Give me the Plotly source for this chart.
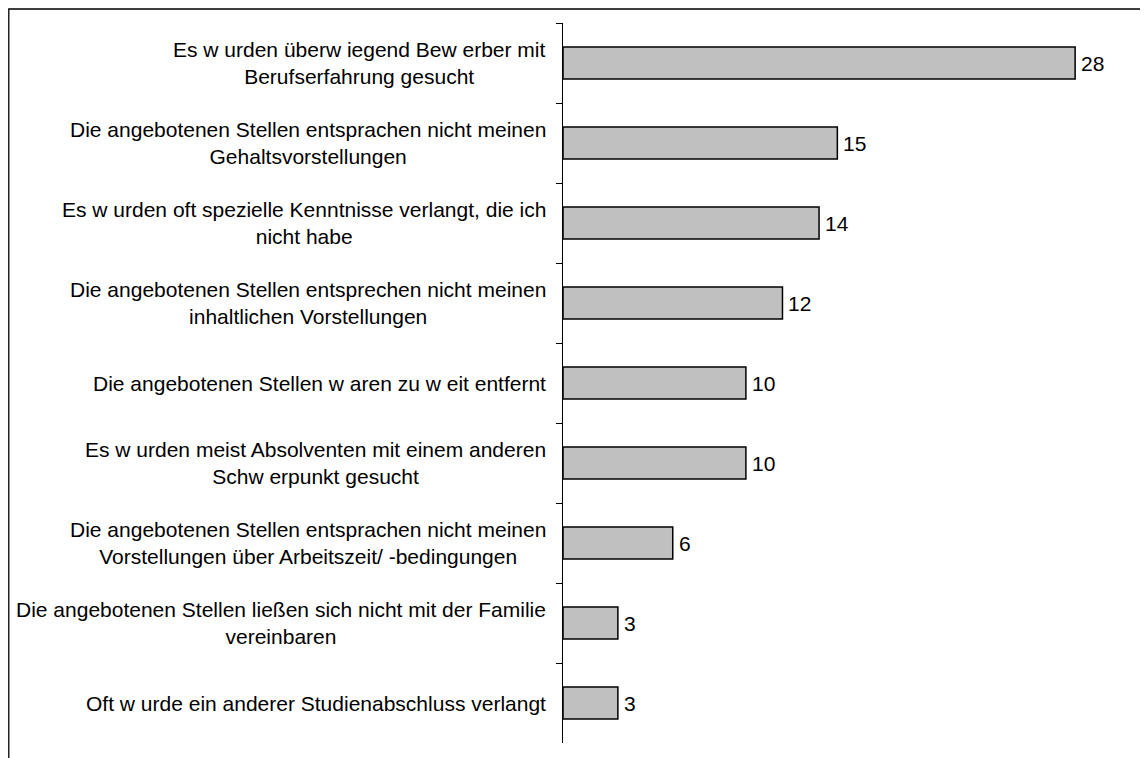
import plotly.graph_objects as go

# Gründe (Antwortkategorien) und Anteile
labels = [
    "Es w urden überw iegend Bew erber mit<br>Berufserfahrung gesucht",
    "Die angebotenen Stellen entsprachen nicht meinen<br>Gehaltsvorstellungen",
    "Es w urden oft spezielle Kenntnisse verlangt, die ich<br>nicht habe",
    "Die angebotenen Stellen entsprechen nicht meinen<br>inhaltlichen Vorstellungen",
    "Die angebotenen Stellen w aren zu w eit entfernt",
    "Es w urden meist Absolventen mit einem anderen<br>Schw erpunkt gesucht",
    "Die angebotenen Stellen entsprachen nicht meinen<br>Vorstellungen über Arbeitszeit/ -bedingungen",
    "Die angebotenen Stellen ließen sich nicht mit der Familie<br>vereinbaren",
    "Oft w urde ein anderer Studienabschluss verlangt",
]
values = [28, 15, 14, 12, 10, 10, 6, 3, 3]

cats = [f"c{i}" for i in range(len(labels))]
FONT = dict(family="Liberation Sans, Arial", size=21, color="black")

W, H = 1148, 758
ml, mt, pw, ph = 555, 15, 567, 720
mr, mb = W - ml - pw, H - mt - ph

fig = go.Figure(go.Bar(
    x=values, y=cats, orientation="h",
    marker=dict(color="#C0C0C0", line=dict(color="black", width=1.5)),
    width=0.4,
    hoverinfo="x+y",
))

for c, lab, v in zip(cats, labels, values):
    fig.add_annotation(
        x=0, xref="paper", y=c, yref="y", xanchor="right", xshift=-15,
        text=lab, align="center", showarrow=False, font=FONT,
    )
    fig.add_annotation(
        x=v, xref="x", y=c, yref="y", xanchor="left", xshift=4,
        text=str(v), showarrow=False, font=FONT,
    )

# Rahmen um das gesamte Diagramm
fig.add_shape(type="rect", xref="paper", yref="paper",
              x0=(0.8 - ml) / pw, x1=2, y0=-1, y1=1 + (mt - 1) / ph,
              line=dict(color="black", width=1.3))

fig.update_layout(
    width=W, height=H,
    margin=dict(l=ml, r=mr, t=mt, b=mb),
    plot_bgcolor="white", paper_bgcolor="white",
    showlegend=False,
    xaxis=dict(range=[0, 31], visible=False),
    yaxis=dict(
        type="category", autorange="reversed",
        showticklabels=False, showgrid=False,
        showline=True, linecolor="black", linewidth=1,
        ticks="outside", ticklen=6, tickcolor="black",
        tickson="boundaries",
    ),
)

fig.write_html("out.html")
